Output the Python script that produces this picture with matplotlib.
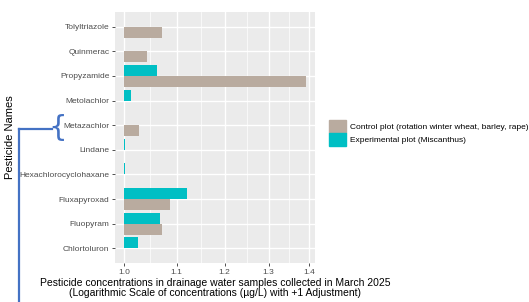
import numpy as np
import matplotlib.pyplot as plt
from matplotlib.patches import Patch
from matplotlib.lines import Line2D
from matplotlib.ticker import NullFormatter

plt.rcParams['font.family'] = ['Liberation Sans', 'DejaVu Sans']

# data (top to bottom), values are concentration + 1; None = no bar
pesticides = ['Tolyltriazole', 'Quinmerac', 'Propyzamide', 'Metolachlor',
              'Metazachlor', 'Lindane', 'Hexachlorocyclohaxane',
              'Fluxapyroxad', 'Fluopyram', 'Chlortoluron']
control = [1.072, 1.043, 1.391, None, 1.027, None, None, 1.086, 1.072, None]
experimental = [None, None, 1.061, 1.013, None, 1.002, 1.002, 1.121, 1.068, 1.025]
xticks = [1.0, 1.1, 1.2, 1.3, 1.4]
labels = ['Control plot (rotation winter wheat, barley, rape)',
          'Experimental plot (Miscanthus)']

c_ctrl = '#B9AB9F'
c_exp = '#00BFC4'

W, H = 529, 302
fig = plt.figure(figsize=(W / 100, H / 100), dpi=100)
ax = fig.add_axes([115 / W, (H - 263) / H, 200 / W, 251 / H])
ax.set_facecolor('#EBEBEB')

n = len(pesticides)
ypos = np.arange(n)[::-1] + 1.0
bw = 0.45
for y, c, e in zip(ypos, control, experimental):
    if c is not None:
        ax.barh(y - bw / 2, c - 1, left=1, height=bw, color=c_ctrl, zorder=3)
    if e is not None:
        ax.barh(y + bw / 2, e - 1, left=1, height=bw, color=c_exp, zorder=3)

ax.set_xscale('log')
lo, hi = 0.0, np.log(1.391)
pad = 0.05 * (hi - lo)
ax.set_xlim(np.exp(lo - pad), np.exp(hi + pad))
ax.set_ylim(0.4, n + 0.6)

ax.set_xticks(xticks)
ax.set_xticklabels([f'{t:.1f}' for t in xticks])
minors = [np.sqrt(a * b) for a, b in zip(xticks[:-1], xticks[1:])]
ax.set_xticks(minors, minor=True)
ax.xaxis.set_minor_formatter(NullFormatter())
ax.set_yticks(ypos)
ax.set_yticklabels(pesticides)
ax.tick_params(which='major', length=2.5, width=0.6, color='#333333',
               labelsize=6, labelcolor='#4D4D4D', pad=1.5)
ax.tick_params(which='minor', length=0)
ax.grid(which='major', color='white', lw=1.0, zorder=0)
ax.grid(which='minor', axis='x', color='white', lw=0.5, zorder=0)
ax.set_axisbelow(True)
for s in ax.spines.values():
    s.set_visible(False)

ax.set_xlabel('Pesticide concentrations in drainage water samples collected in March 2025\n'
              '(Logarithmic Scale of concentrations (\u00b5g/L) with +1 Adjustment)',
              fontsize=7.5, linespacing=0.95, labelpad=2)
ax.set_ylabel('Pesticide Names', fontsize=8, labelpad=3)

handles = [Patch(color=c_ctrl), Patch(color=c_exp)]
fig.legend(handles, labels, loc='upper left', bbox_to_anchor=(329 / W, 1 - 120 / H),
           frameon=False, fontsize=6, handlelength=2.0, handleheight=2.0,
           labelspacing=0.0, handletextpad=0.5, borderpad=0, borderaxespad=0)

# blue bracket annotation around Metazachlor
blue = '#4472C4'
fig.add_artist(Line2D([19 / W, 19 / W], [1 - 129 / H, 0], color=blue, lw=1.6))
fig.add_artist(Line2D([19 / W, 52 / W], [1 - 129 / H, 1 - 129 / H], color=blue, lw=1.6))
fig.text(58 / W, 1 - 128 / H, '{', color=blue, fontsize=21, ha='center', va='center',
         family='DejaVu Sans')

fig.savefig('out.png', dpi=100)
